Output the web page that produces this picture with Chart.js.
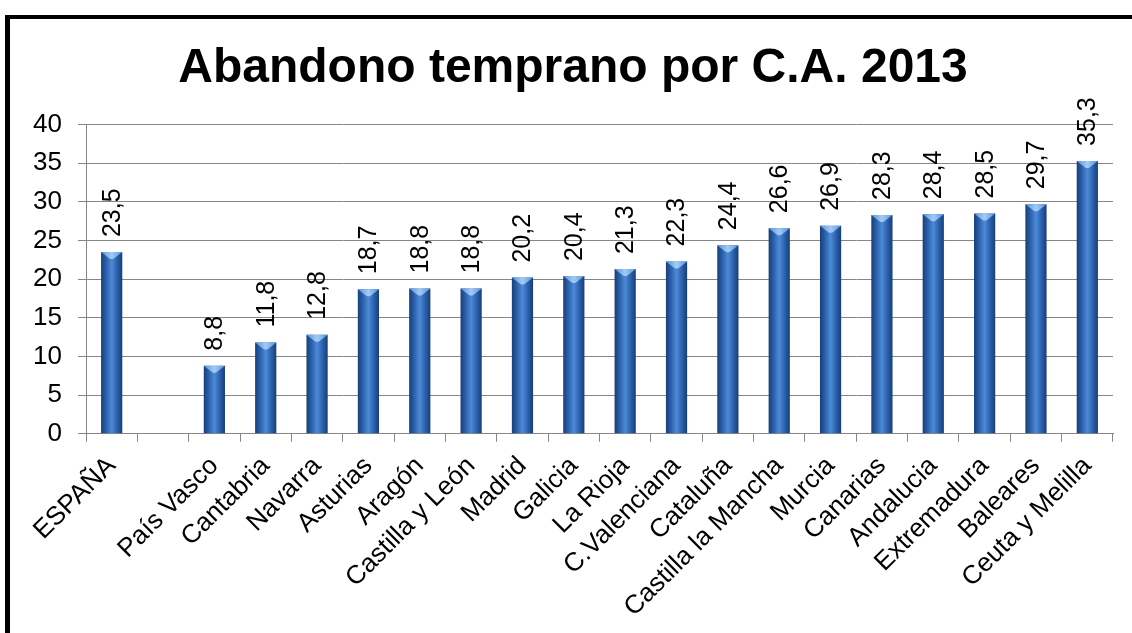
<!DOCTYPE html>
<html>
<head>
<meta charset="utf-8">
<script src="https://cdn.jsdelivr.net/npm/chart.js@4.4.1/dist/chart.umd.min.js"></script>
<style>
  html, body { margin: 0; padding: 0; background: #fff; }
  body { width: 1132px; height: 633px; position: relative; overflow: hidden; }
  #frame { position: absolute; left: 5px; top: 15px; width: 1200px; height: 700px;
           border-left: 5px solid #000; border-top: 4px solid #000; box-sizing: border-box; }
  #wrap { position: absolute; left: 0; top: 0; width: 1132px; height: 633px; }
</style>
</head>
<body>
<div id="frame"></div>
<div id="wrap"><canvas id="c" width="1132" height="633"></canvas></div>
<script>
const titleText = 'Abandono temprano por C.A. 2013';
const categories = ['ESPAÑA', '', 'País Vasco', 'Cantabria', 'Navarra', 'Asturias', 'Aragón',
  'Castilla y León', 'Madrid', 'Galicia', 'La Rioja', 'C.Valenciana', 'Cataluña',
  'Castilla la Mancha', 'Murcia', 'Canarias', 'Andalucia', 'Extremadura', 'Baleares', 'Ceuta y Melilla'];
const values = [23.5, null, 8.8, 11.8, 12.8, 18.7, 18.8, 18.8, 20.2, 20.4, 21.3, 22.3, 24.4,
  26.6, 26.9, 28.3, 28.4, 28.5, 29.7, 35.3];
const yMin = 0, yMax = 40, yStep = 5;

const FONT = "'Liberation Sans', Arial, sans-serif";

function barFill(c) {
  const chart = c.chart;
  const xs = chart.scales && chart.scales.x;
  if (!xs || c.dataIndex === undefined) return '#2c62ad';
  const x = xs.getPixelForValue(c.dataIndex);
  if (!isFinite(x)) return '#2c62ad';
  const w = 10.5;
  const g = chart.ctx.createLinearGradient(x - w, 0, x + w, 0);
  g.addColorStop(0, '#173f78');
  g.addColorStop(0.22, '#2a5ea8');
  g.addColorStop(0.5, '#4c8ad8');
  g.addColorStop(0.78, '#2a5ea8');
  g.addColorStop(1, '#173f78');
  return g;
}

const barStyle = {
  id: 'barStyle',
  afterDatasetsDraw(chart) {
    const ctx = chart.ctx;
    const meta = chart.getDatasetMeta(0);
    meta.data.forEach((bar, i) => {
      const v = values[i];
      if (v === null || v === undefined || !isFinite(bar.x) || !isFinite(bar.y)) return;
      const half = bar.width / 2;
      ctx.save();
      const g = ctx.createLinearGradient(bar.x - half, 0, bar.x + half, 0);
      g.addColorStop(0, '#5a92da');
      g.addColorStop(0.5, '#a2cbf5');
      g.addColorStop(1, '#5a92da');
      ctx.fillStyle = g;
      ctx.beginPath();
      ctx.moveTo(bar.x - half, bar.y);
      ctx.lineTo(bar.x + half, bar.y);
      ctx.lineTo(bar.x + half * 0.15, bar.y + 7);
      ctx.lineTo(bar.x - half * 0.15, bar.y + 7);
      ctx.closePath();
      ctx.fill();
      ctx.restore();
      ctx.save();
      ctx.translate(bar.x, bar.y - 15);
      ctx.rotate(-Math.PI / 2);
      ctx.font = '25px ' + FONT;
      ctx.fillStyle = '#000';
      ctx.textAlign = 'left';
      ctx.textBaseline = 'middle';
      ctx.fillText(v.toFixed(1).replace('.', ','), 0, 1);
      ctx.restore();
    });
  }
};

const chart = new Chart(document.getElementById('c'), {
  type: 'bar',
  data: {
    labels: categories,
    datasets: [{
      data: values,
      barPercentage: 0.7,
      categoryPercentage: 0.59,
      backgroundColor: barFill,
      borderWidth: 0
    }]
  },
  options: {
    responsive: false,
    animation: false,
    layout: { padding: { left: 33, right: 19, top: 0, bottom: 1 } },
    plugins: {
      legend: { display: false },
      tooltip: { enabled: false },
      title: {
        display: true,
        text: titleText,
        color: '#000',
        font: { family: FONT, size: 48, weight: 'bold' },
        padding: { top: 40, bottom: 27 }
      }
    },
    scales: {
      x: {
        offset: true,
        afterFit: (s) => { s.paddingLeft = 0; s.paddingRight = 0; },
        grid: { offset: true, drawOnChartArea: false, drawTicks: true, tickLength: 8, color: '#868686' },
        border: { color: '#868686', width: 1 },
        ticks: {
          color: '#000', font: { family: FONT, size: 26 },
          maxRotation: 45, minRotation: 45, autoSkip: false, padding: 9
        }
      },
      y: {
        min: yMin, max: yMax,
        afterFit: (s) => { s.width = 53; },
        grid: { color: '#868686', tickLength: 8 },
        border: { color: '#868686', width: 1 },
        ticks: {
          stepSize: yStep, color: '#000', font: { family: FONT, size: 26 }, padding: 16
        }
      }
    }
  },
  plugins: [barStyle]
});
chart.update();
</script>
</body>
</html>
